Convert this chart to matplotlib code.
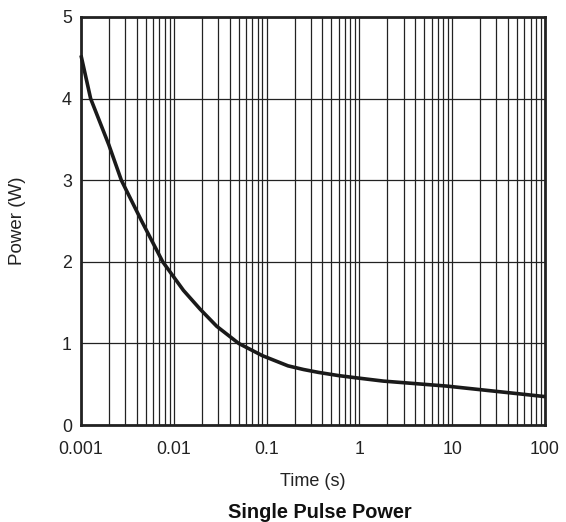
import numpy as np
import matplotlib.pyplot as plt
from matplotlib.ticker import LogLocator, FixedLocator, NullFormatter

plt.rcParams['font.family'] = ['Liberation Sans', 'DejaVu Sans']

# single pulse power curve
time_s = [0.001, 0.00127, 0.002, 0.00272, 0.0045, 0.0076, 0.0127, 0.0192,
          0.029, 0.05, 0.09, 0.17, 0.25, 0.361, 0.6, 0.897, 1.81, 8.7, 27.7, 100]
power_w = [4.53, 4.0, 3.43, 3.0, 2.5, 2.0, 1.65, 1.42,
           1.21, 1.0, 0.85, 0.725, 0.68, 0.645, 0.605, 0.58, 0.538, 0.477, 0.416, 0.348]

x_ticks = [0.001, 0.01, 0.1, 1, 10, 100]
x_labels = ['0.001', '0.01', '0.1', '1', '10', '100']
y_ticks = [0, 1, 2, 3, 4, 5]

fig = plt.figure(figsize=(5.66, 5.22), dpi=100)
ax = fig.add_axes([81 / 566, 1 - 425 / 522, 464 / 566, 408 / 522])

ax.plot(time_s, power_w, color='#1a1a1a', lw=2.6, solid_joinstyle='round',
        solid_capstyle='butt', zorder=3, clip_on=False)

ax.set_xscale('log')
ax.set_xlim(0.001, 100)
ax.set_ylim(0, 5)
ax.set_xticks(x_ticks)
ax.set_xticklabels(x_labels)
ax.xaxis.set_minor_locator(LogLocator(base=10, subs=np.arange(2, 10)))
ax.xaxis.set_minor_formatter(NullFormatter())
ax.yaxis.set_major_locator(FixedLocator(y_ticks))

ax.grid(True, which='both', axis='x', color='#222222', lw=0.9)
ax.grid(True, which='major', axis='y', color='#222222', lw=0.9)
ax.tick_params(which='both', length=0, labelsize=12.8, colors='#222222')
ax.tick_params(axis='x', pad=11.5)
ax.tick_params(axis='y', pad=6.5)

for s in ax.spines.values():
    s.set_linewidth(2)
    s.set_color('#222222')

ax.set_xlabel('Time (s)', fontsize=13, color='#222222', va='center')
ax.xaxis.set_label_coords(0.5, (425 - 482) / 408)
ax.set_ylabel('Power (W)', fontsize=13.5, color='#222222', va='center')
ax.yaxis.set_label_coords((18 - 81) / 464, 0.5)
fig.text(320 / 566, 1 - 512 / 522, 'Single Pulse Power', ha='center', va='center',
         fontsize=14.4, fontweight='bold', color='#111111')

fig.savefig('out.png', dpi=100)
